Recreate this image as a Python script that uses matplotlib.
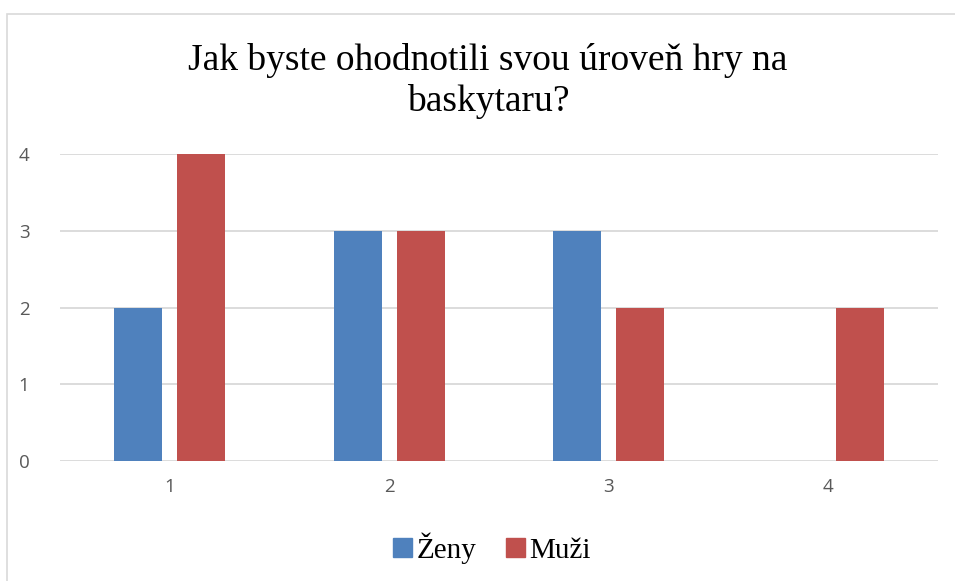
import matplotlib
matplotlib.use("Agg")
import matplotlib.pyplot as plt
from matplotlib.patches import Rectangle, Patch
import numpy as np

categories = ["1", "2", "3", "4"]
zeny = [2, 3, 3, 0]
muzi = [4, 3, 2, 2]
series_names = ["Ženy", "Muži"]
title = "Jak byste ohodnotili svou úroveň hry na\nbaskytaru?"

blue = "#4f81bd"
red = "#c0504d"

fig = plt.figure(figsize=(9.55, 5.81), dpi=100)
fig.patches.append(Rectangle((7/955, -0.1), 1.2, 1 - 14/581 + 0.1, transform=fig.transFigure,
                             fill=False, edgecolor="#d9d9d9", linewidth=1.2))
ax = fig.add_axes([60/955, 1 - 461/581, 878/955, 307/581])
x = np.arange(len(categories))
off = 0.1435
w = 0.219
ax.bar(x - off, zeny, w, color=blue, zorder=3)
ax.bar(x + off, muzi, w, color=red, zorder=3)
ax.set_xlim(-0.5, 3.5)
ax.set_ylim(0, 4)
ax.set_yticks([0, 1, 2, 3, 4])
ax.set_xticks(x)
ax.set_xticklabels(categories)
for s in ax.spines.values():
    s.set_visible(False)
ax.grid(axis="y", color="#d9d9d9", linewidth=1.3, zorder=0)
ax.tick_params(length=0, labelsize=13.5, labelcolor="#595959", pad=12)
ax.tick_params(axis="y", pad=22)
for lab in ax.get_xticklabels() + ax.get_yticklabels():
    lab.set_family("Open Sans")

fig.text(488/955, 1 - 81/581, title, ha="center", va="center", fontsize=27,
         family="Liberation Serif", linespacing=1.22)

handles = [Patch(color=blue), Patch(color=red)]
fig.legend(handles, series_names, loc="center", bbox_to_anchor=(492/955, 1 - 548/581),
           ncol=2, frameon=False, prop={"family": "Liberation Serif", "size": 21},
           handlelength=0.65, handleheight=0.65, handletextpad=0.15, columnspacing=1.0)

fig.savefig("out.png", dpi=100)
